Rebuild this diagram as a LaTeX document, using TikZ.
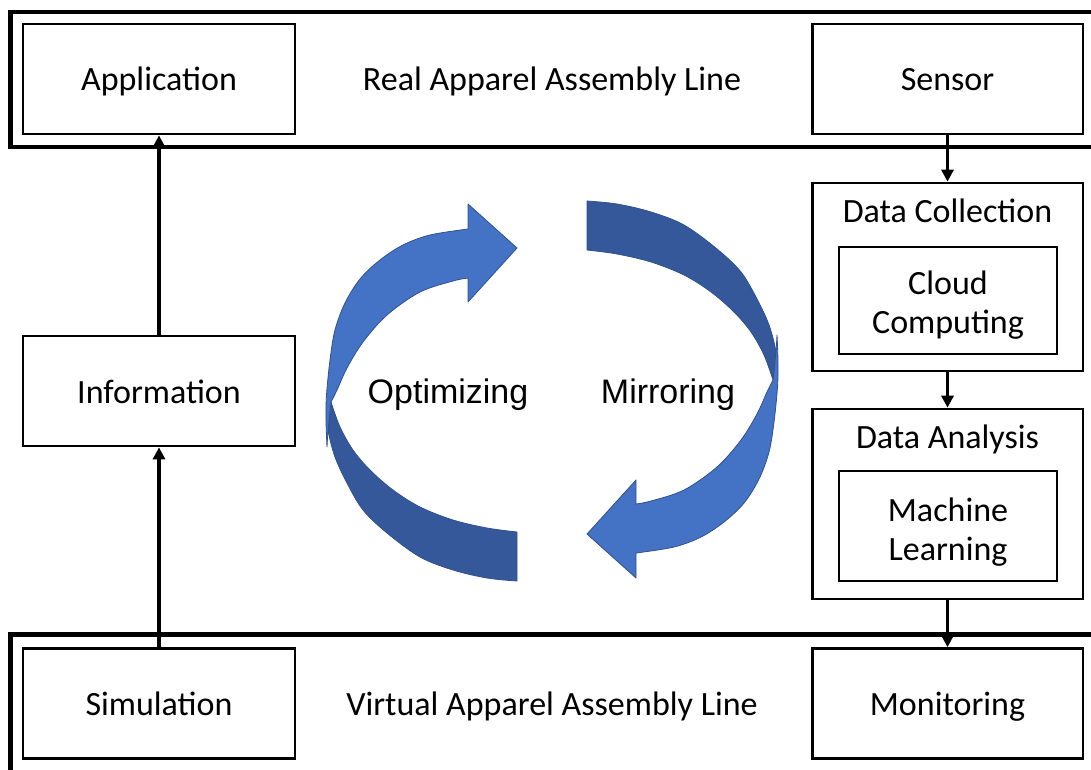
\documentclass[tikz,border=0pt]{standalone}
\usepackage{fontspec}
\setmainfont{Carlito}
\newfontfamily\arialfont{Liberation Sans}
\usetikzlibrary{arrows.meta}
\definecolor{ribbonfront}{HTML}{4472C4}
\definecolor{ribbonback}{HTML}{35589A}
\definecolor{ribbonedge}{HTML}{2F528F}

\begin{document}
\begin{tikzpicture}[x=0.75pt,y=-0.75pt,
  labelfont/.style={font=\fontsize{25.5pt}{29.5pt}\selectfont},
  frame/.style={draw, line width=3.2pt},
  box/.style={draw, line width=2pt, inner sep=0pt, labelfont,
    minimum width=204pt, minimum height=82.5pt, text height=22pt, text depth=4pt},
  groupbox/.style={draw, line width=2pt, inner sep=0pt,
    minimum width=203pt},
  innerbox/.style={draw, line width=2pt, inner sep=0pt,
    minimum width=163.5pt},
  plain/.style={labelfont, inner sep=0pt, align=center},
  conn/.style={line width=2.4pt, -{Triangle[length=9pt,width=9pt]}},
  ribbon/.style={line width=0.6pt, draw=ribbonedge, line join=round}]

\useasboundingbox (0,0) rectangle (1091,770);
\clip (0,0) rectangle (1091,770);

% the two assembly lines (frames run past the right and bottom edges)
\draw[frame] (1120,12) -- (10.5,12) -- (10.5,147) -- (1120,147);
\draw[frame] (1120,634.5) -- (10.5,634.5) -- (10.5,800);

% boxes on the left column
\node[box] (app)  at (159,79)    {Application};
\node[box] (info) at (159,391)   {Information};
\node[box] (sim)  at (159,703.5) {Simulation};

% boxes on the right column
\node[box, minimum width=203pt] (sensor) at (947.5,79)    {Sensor};
\node[box, minimum width=203pt] (monit)  at (947.5,703.5) {Monitoring};

\node[groupbox, minimum height=141pt] (dc) at (947.5,277) {};
\node[plain, anchor=base] (dctitle) at (947.5,222) {Data Collection};
\node[innerbox, minimum height=80.25pt] (cc) at (948,300.5) {};
\node[plain] (cctext) at (948,305) {Cloud\\Computing};

\node[groupbox, minimum height=142.5pt] (da) at (947.5,504) {};
\node[plain, anchor=base] (datitle) at (947.5,448) {Data Analysis};
\node[innerbox, minimum height=82.5pt] (ml) at (948,526) {};
\node[plain] (mltext) at (948,532) {Machine\\Learning};

% line titles
\node[plain, anchor=base] (realline) at (552,91) {Real Apparel Assembly Line};
\node[plain, anchor=base] (virtline) at (552,715) {Virtual Apparel Assembly Line};

% connectors
\draw[conn] (sim.north) -- (info.south);
\draw[conn] (info.north) -- (app.south);
\draw[conn] (sensor.south) -- (dc.north);
\draw[conn] (dc.south) -- (da.north);
\draw[conn] (da.south) -- (monit.north);

% the two curved ribbon arrows (second one is the first turned half a turn)
\foreach \ang in {0,180} {
  \begin{scope}[rotate around={\ang:(552,391)}]
    % back face of the ribbon
    \filldraw[ribbon, fill=ribbonback]
      (331,402) -- plot[smooth, tension=0.55] coordinates {(331,402) (340,427) (353,450) (370,470) (393,490) (420,507) (453,520) (487,528) (517,532)}
      -- (517,581)
      -- plot[smooth, tension=0.55] coordinates {(517,581) (487,578) (453,570) (420,557) (387,533) (363,510) (347,483) (335,457) (328,430) (326.5,405)}
      -- cycle;
    % front face with the arrow head
    \filldraw[ribbon, fill=ribbonfront]
      (468,229) -- (468,204) -- (517,248) -- (468,302) -- (468,278)
      -- plot[smooth, tension=0.55] coordinates {(468,278) (453,281) (420,292) (387,315) (363,342) (347,368) (337,390) (331,402)}
      .. controls (329,420) and (327.5,435) .. (327,447)
      -- plot[smooth, tension=0.55] coordinates {(327,447) (326,420) (326.5,395) (330,360) (335,330) (345,303) (360,279) (380,260) (403,245) (430,235) (468,229)}
      -- cycle;
  \end{scope}
}

\node[font=\arialfont\fontsize{25.5pt}{30pt}\selectfont, inner sep=0pt, anchor=base] (optim) at (448,403) {Optimizing};
\node[font=\arialfont\fontsize{25.5pt}{30pt}\selectfont, inner sep=0pt, anchor=base] (mirror) at (668,403) {Mirroring};
\end{tikzpicture}
\end{document}
